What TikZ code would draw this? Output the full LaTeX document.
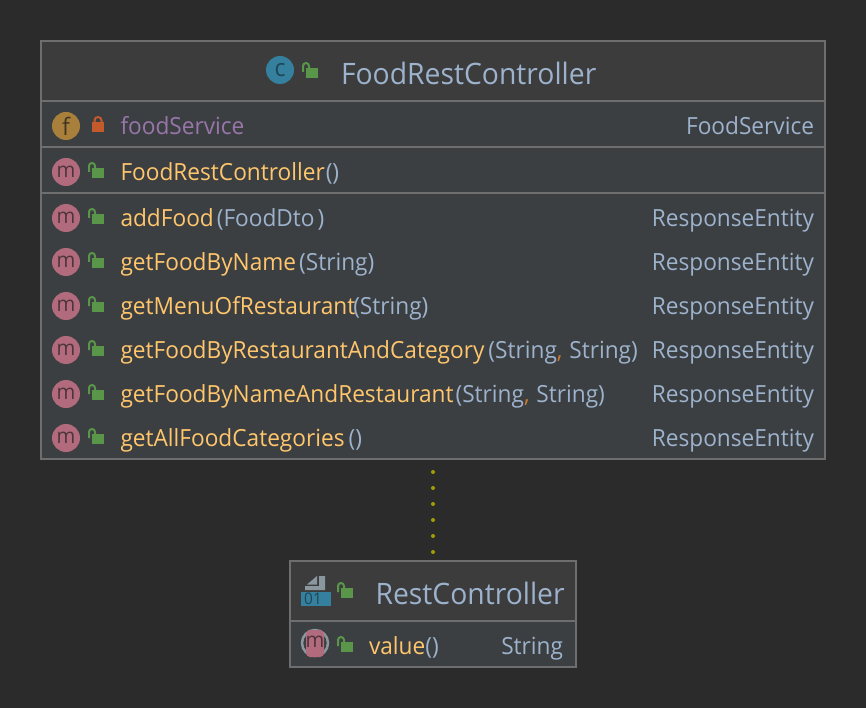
\documentclass[tikz,border=0pt]{standalone}
\usepackage{fontspec}
\setmainfont[FakeStretch=0.96]{Open Sans}
\definecolor{bgc}{HTML}{2B2B2B}
\definecolor{bodyc}{HTML}{3C3F41}
\definecolor{headc}{HTML}{3C3C3C}
\definecolor{edgec}{HTML}{6E6E6E}
\definecolor{namec}{HTML}{FFC66D}
\definecolor{typec}{HTML}{9DB2CC}
\definecolor{fieldc}{HTML}{9876AA}
\definecolor{commac}{HTML}{CC7832}
\definecolor{mpink}{HTML}{B26B7D}
\definecolor{mtext}{HTML}{4E343C}
\definecolor{fgold}{HTML}{A8803C}
\definecolor{ftext}{HTML}{43361F}
\definecolor{cblue}{HTML}{35809E}
\definecolor{ctext}{HTML}{1F4656}
\definecolor{lockg}{HTML}{59964A}
\definecolor{lockr}{HTML}{C25A2B}
\definecolor{ringc}{HTML}{8B979F}
\definecolor{dotc}{HTML}{A0A000}
\tikzset{x=1pt,y=-1pt,
  txt/.style={inner sep=0pt,outer sep=0pt,font=\fontsize{23.6}{25}\selectfont,anchor=base west},
  nametxt/.style={txt,text=namec},
  typetxt/.style={txt,text=typec},
  rtype/.style={txt,text=typec,anchor=base east},
  titletxt/.style={txt,text=typec,font=\fontsize{29.5}{31}\selectfont},
  badge/.style={circle,minimum size=28pt,inner sep=0pt,outer sep=0pt,font=\fontsize{24}{24}\selectfont},
  mbadge/.style={badge,fill=mpink,text=mtext,font=\fontsize{21}{21}\selectfont},
  box/.style={draw=edgec,line width=1.5pt,inner sep=0pt,outer sep=0pt,minimum width=0pt},
  divider/.style={edgec,line width=2pt}
}
\newcommand{\openlock}[3][lockg]{%
  \fill[#1] (#2+4,#3) rectangle (#2+16,#3+10);
  \draw[#1,line width=2pt] (#2+1,#3+4) -- (#2+1,#3-2) arc[start angle=180,end angle=0,x radius=3,y radius=-3] -- (#2+7,#3);
}
\newcommand{\memberrow}[5]{% name, y, method, args-macro, type
  \node[mbadge] (m#1) at (66,#2) {m};
  \openlock{88}{#2-4}
  \node[nametxt] (n#1) at (120.5,#2+8.5) {#3};
  \node[typetxt,anchor=base west] (a#1) at (n#1.base east) {#4};
  \node[rtype] (t#1) at (814,#2+8.5) {ResponseEntity};
}
\newcommand{\cm}{\textcolor{commac}{,}}
\begin{document}
\begin{tikzpicture}
\useasboundingbox (0,0) rectangle (866,708);
\fill[bgc] (0,0) rectangle (866,708);
% class box
\coordinate (ctl) at (41,41);
\fill[bodyc] (41,41) rectangle (825,459);
\fill[headc] (41,41) rectangle (825,100);
\node[box,minimum width=784pt,minimum height=418pt,anchor=north west] (food) at (ctl) {};
\draw[divider] (41,101) -- (825,101);
\draw[divider] (41,147) -- (825,147);
\draw[divider] (41,193) -- (825,193);
% title
\node[badge,fill=cblue,text=ctext] (cicon) at (280,70) {c};
\openlock{302}{68}
\node[titletxt] (ftitle) at (341,85) {FoodRestController};
% field
\node[badge,fill=fgold,text=ftext] (ficon) at (66,126) {f};
\fill[lockr] (92,122) rectangle (104,132);
\draw[lockr,line width=2pt] (94.5,122) -- (94.5,120.5) arc[start angle=180,end angle=0,x radius=3.5,y radius=-3.5] -- (101.5,122);
\node[txt,text=fieldc] (fname) at (120.5,134.5) {foodService};
\node[rtype] (ftype) at (814,134.5) {FoodService};
% members
\node[mbadge] (mctor) at (66,172) {m};
\openlock{88}{168}
\node[nametxt] (nctor) at (120.5,180.5) {FoodRestController\textcolor{typec}{\hspace{1pt}()}};
\memberrow{a}{218}{addFood}{\hspace{3pt}(FoodDto\hspace{3pt})}{}
\memberrow{b}{262}{getFoodByName}{\hspace{3pt}(String)}{}
\memberrow{c}{306}{getMenuOfRestaurant}{\hspace{-2pt}(String)}{}
\memberrow{d}{350}{getFoodByRestaurantAndCategory}{\hspace{4pt}(String\cm{}\hspace{1pt} String)}{}
\memberrow{e}{394}{getFoodByNameAndRestaurant}{\hspace{2pt}(String\cm{}\hspace{1pt} String)}{}
\memberrow{f}{438}{getAllFoodCategories}{\hspace{4pt}()}{}
% annotation box
\coordinate (rtl) at (290,561);
\fill[bodyc] (290,561) rectangle (576,667);
\fill[headc] (290,561) rectangle (576,620);
\node[box,minimum width=286pt,minimum height=106pt,anchor=north west] (rest) at (rtl) {};
\draw[divider] (290,621) -- (576,621);
\fill[ringc] (305,590) -- (325,590) -- (325,576) -- (319,576) -- (319,586) -- (305,586) -- cycle;
\fill[ringc] (307,584.5) -- (317,576) -- (317,584.5) -- cycle;
\node[fill=cblue,text=ctext,inner sep=0pt,minimum width=30pt,minimum height=14pt,font=\fontsize{16}{16}\selectfont] (ricon) at (316,599) {\hspace{-6pt}01};
\openlock{337}{588}
\node[titletxt] (rtitle) at (375.5,604.5) {RestController};
\node[badge,fill=none,draw=ringc,line width=2.5pt,minimum size=26pt] (vring) at (315,643) {};
\fill[mpink,rounded corners=4pt] (306,630) rectangle (324,657);
\node[inner sep=0pt,text=mtext,font=\fontsize{21}{21}\selectfont] (vicon) at (315,642) {m};
\openlock{337}{642}
\node[nametxt] (vname) at (369,654.5) {value\textcolor{typec}{()}};
\node[rtype] (vtype) at (563,654.5) {String};
% dependency
\draw[dotc,line width=4pt,line cap=round,dash pattern=on 0pt off 16pt,dash phase=-13pt,shorten >=4pt] (food.south) -- (rest.north);
\end{tikzpicture}
\end{document}
